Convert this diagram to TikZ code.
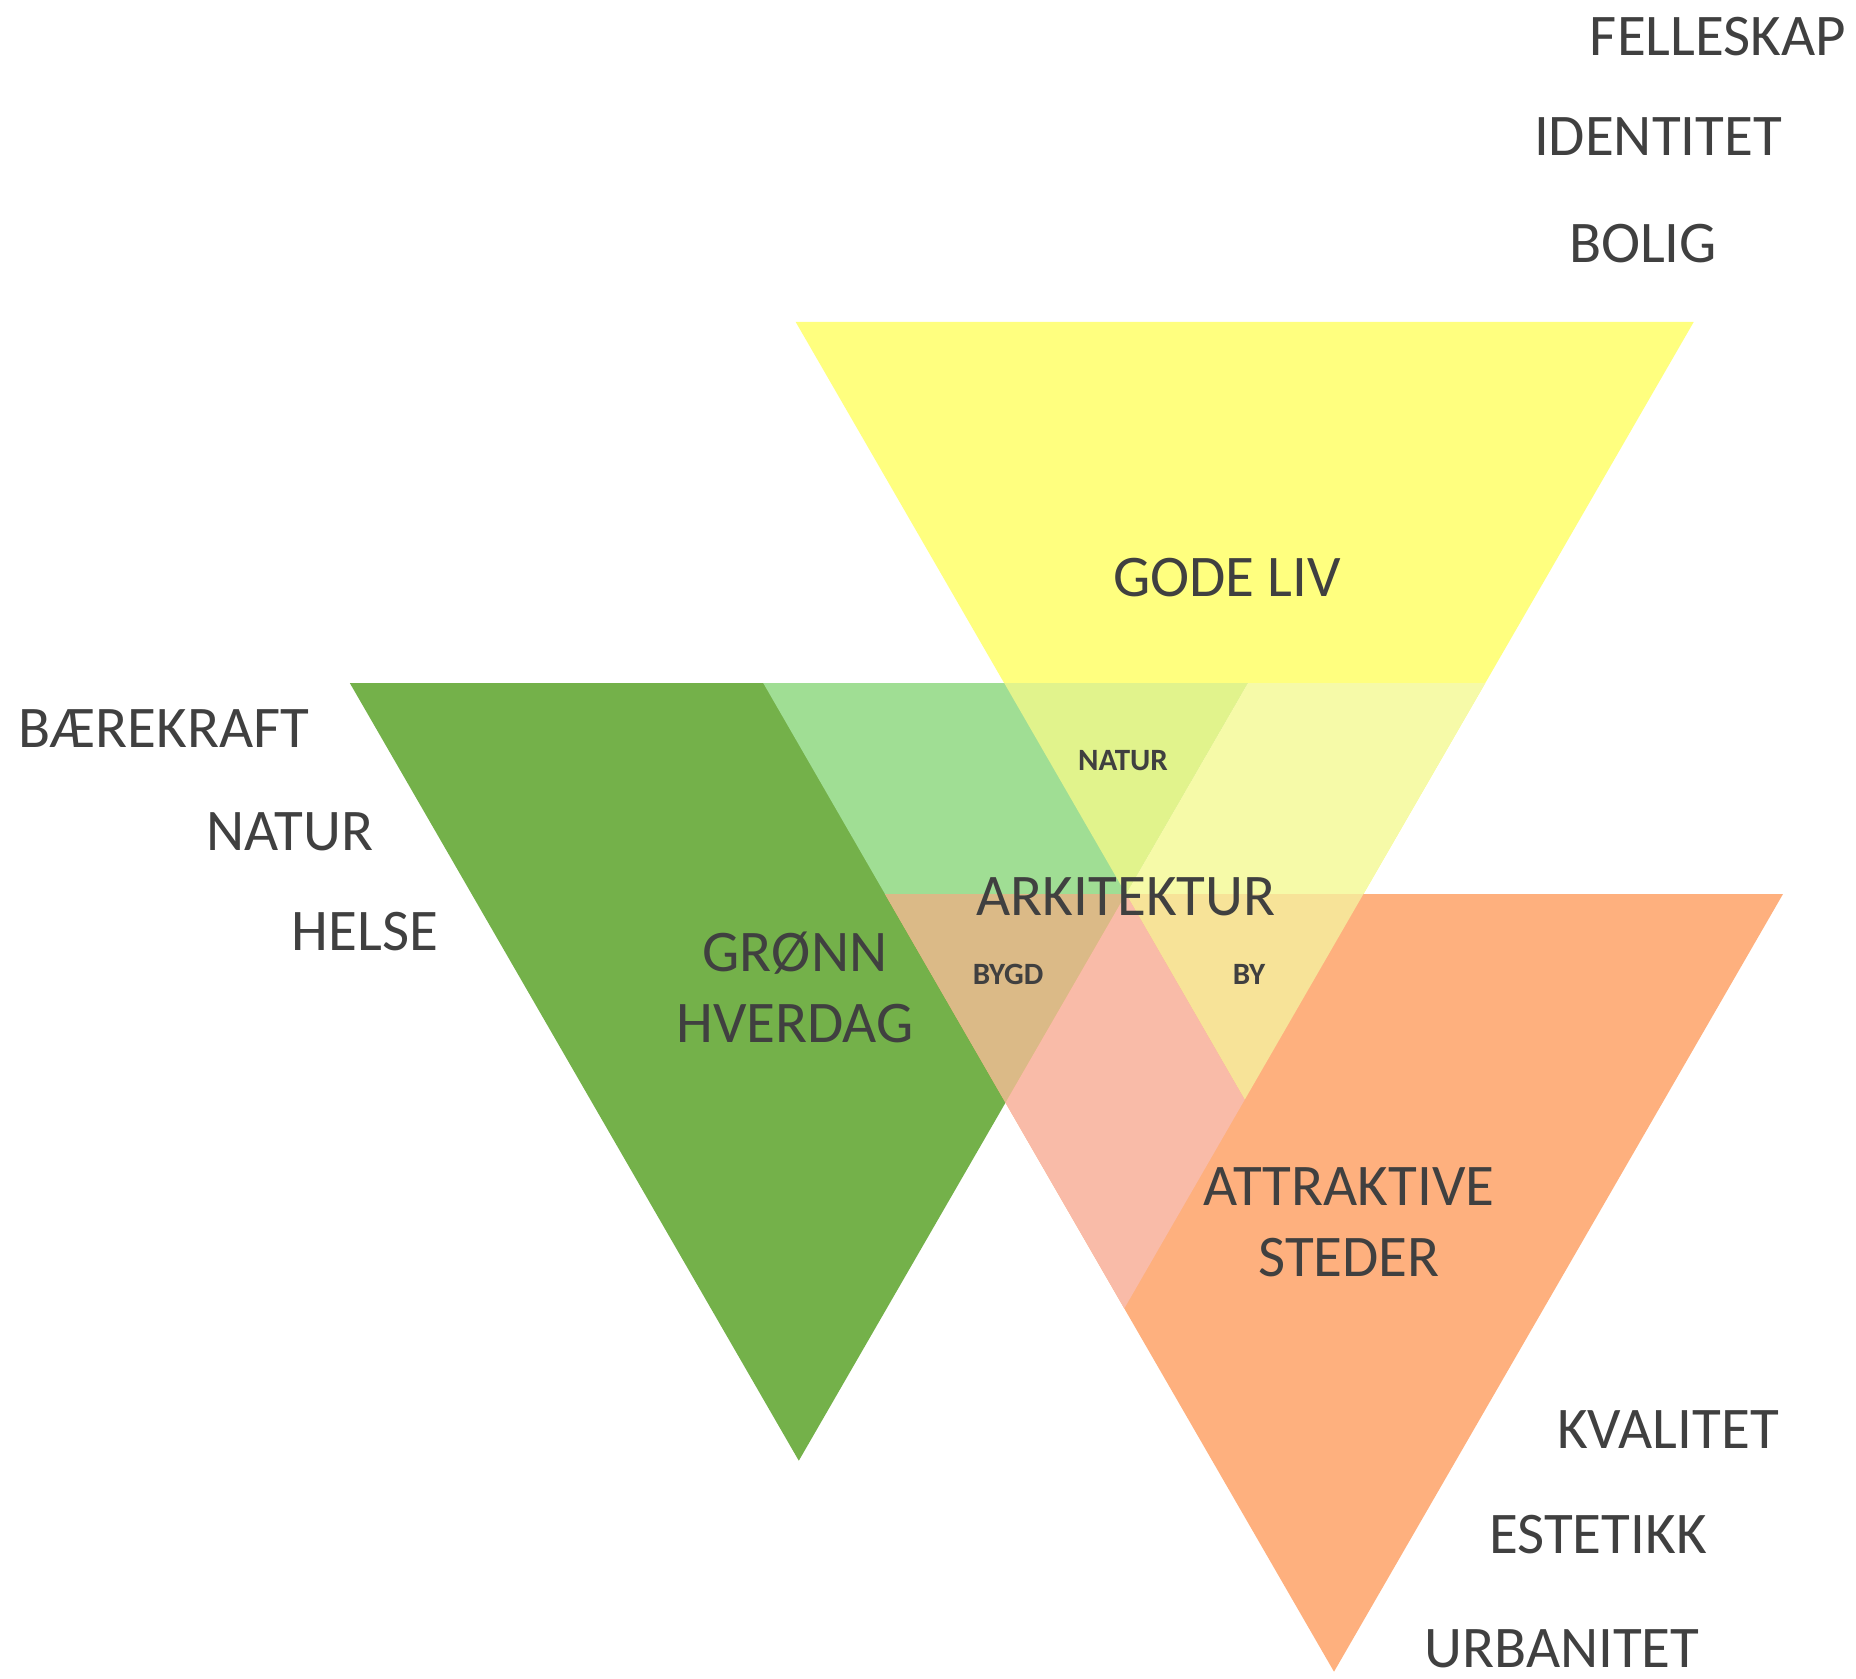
\documentclass[tikz,border=0pt]{standalone}
\usepackage{fontspec}
\setmainfont{Carlito}
\definecolor{cYellow}{HTML}{FFFF7F}
\definecolor{cGreen}{HTML}{74B14A}
\definecolor{cOrange}{HTML}{FEB07E}
\definecolor{cLightGreen}{HTML}{A0DE94}
\definecolor{cNatur}{HTML}{E1F38C}
\definecolor{cPaleYellow}{HTML}{F6FAA8}
\definecolor{cTan}{HTML}{DBBA87}
\definecolor{cBy}{HTML}{F7E398}
\definecolor{cPink}{HTML}{F9BBA8}
\definecolor{cText}{HTML}{404040}
\tikzset{
  biglabel/.style={text=cText, inner sep=0pt, font=\fontsize{29.5}{35.5}\selectfont, align=center},
  smalllabel/.style={text=cText, inner sep=0pt, font=\fontsize{15.5}{18}\selectfont\bfseries},
}
\begin{document}
\begin{tikzpicture}[x=0.5pt,y=-0.5pt]
\useasboundingbox (0,0) rectangle (1856,1679);
% base triangles
\fill[cYellow] (795.7,322) -- (1693.7,322) -- (1244.7,1099.7) -- cycle;
\fill[cGreen] (349.8,683) -- (1247.8,683) -- (798.8,1460.7) -- cycle;
\fill[cOrange] (885,894) -- (1783,894) -- (1334,1671.7) -- cycle;
% overlap regions inside the central triangle
\fill[cLightGreen] (763.2,683) -- (1247.8,683) -- (1126,894) -- (885,894) -- cycle;
\fill[cNatur] (1004.2,683) -- (1247.8,683) -- (1126,894) -- cycle;
\fill[cPaleYellow] (1247.8,683) -- (1485.3,683) -- (1363.4,894) -- (1126,894) -- cycle;
\fill[cTan] (885,894) -- (1126,894) -- (1005.5,1102.7) -- cycle;
\fill[cBy] (1126,894) -- (1363.4,894) -- (1244.7,1099.7) -- cycle;
\fill[cPink] (1126,894) -- (1244.7,1099.7) -- (1124.3,1308.4) -- (1005.5,1102.7) -- cycle;
% labels
\node[biglabel] (felleskap) at (1718,37) {FELLESKAP};
\node[biglabel] (identitet) at (1658,137) {IDENTITET};
\node[biglabel] (bolig) at (1643,244) {BOLIG};
\node[biglabel] (godeliv) at (1227,578) {GODE LIV};
\node[biglabel] (baerekraft) at (164,729) {BÆREKRAFT};
\node[biglabel] (naturL) at (290,832) {NATUR};
\node[biglabel] (helse) at (365,932) {HELSE};
\node[smalllabel] (naturS) at (1123,761) {NATUR};
\node[biglabel] (arkitektur) at (1126,897) {ARKITEKTUR};
\node[biglabel] (gronn) at (795,987) {GRØNN\\HVERDAG};
\node[smalllabel] (bygd) at (1008,974) {BYGD};
\node[smalllabel] (by) at (1249,974) {BY};
\node[biglabel] (attraktive) at (1349,1222) {ATTRAKTIVE\\STEDER};
\node[biglabel] (kvalitet) at (1668,1430) {KVALITET};
\node[biglabel] (estetikk) at (1598,1535) {ESTETIKK};
\node[biglabel] (urbanitet) at (1562,1649) {URBANITET};
\end{tikzpicture}
\end{document}
